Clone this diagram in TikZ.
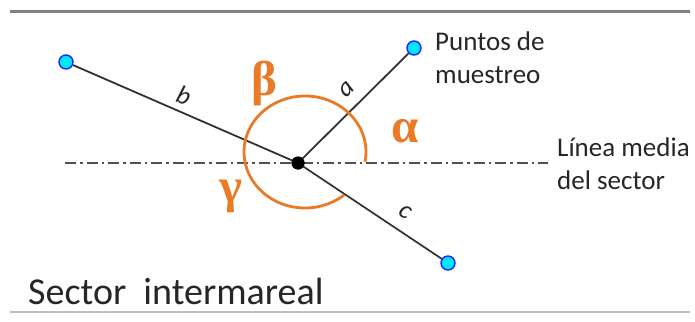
\documentclass[tikz,border=0pt]{standalone}
\usepackage{fontspec}
\setmainfont{Carlito}
\newfontfamily\greekfont{Liberation Serif}
\definecolor{orng}{RGB}{232,122,40}
\definecolor{ln}{RGB}{50,50,50}
\definecolor{ptfill}{RGB}{0,230,255}
\definecolor{ptdraw}{RGB}{20,40,255}
\tikzset{
  pt/.style={circle,fill=ptfill,draw=ptdraw,line width=1.4pt,minimum size=14pt,inner sep=0pt},
  cdot/.style={circle,fill=black,minimum size=13pt,inner sep=0pt},
  seg/.style={draw=ln,line width=1.8pt},
  midl/.style={draw=ln!85,line width=1.5pt,dash pattern=on 11pt off 4pt on 2.5pt off 4pt},
  ang/.style={draw=orng,line width=2.8pt},
  glab/.style={text=orng,font=\greekfont\bfseries\fontsize{49}{49}\selectfont,inner sep=0pt},
  slab/.style={font=\itshape\fontsize{26}{26}\selectfont,inner sep=0pt,text=black!85},
  txt/.style={font=\fontsize{27}{33}\selectfont,align=left,inner sep=0pt,text=black!85,anchor=west}
}
\begin{document}
\begin{tikzpicture}[x=1pt,y=-1pt]
\useasboundingbox (0,0) rectangle (695,321);
% frame lines
\coordinate (t1) at (10,12); \coordinate (t2) at (690,12);
\coordinate (b1) at (10,312); \coordinate (b2) at (690,312);
\draw[gray,line width=3pt] (t1) -- (t2);
\draw[black!25,line width=1.5pt] (b1) -- (b2);
% midline
\coordinate (ml1) at (65,163); \coordinate (ml2) at (548,163);
\draw[midl] (ml1) -- (ml2);
% points
\node[pt] (pb) at (66,62) {};
\node[pt] (pa) at (414,48) {};
\node[pt] (pc) at (448,263) {};
\node[cdot] (o) at (298,163) {};
\draw[seg] (o.center) -- (pb);
\draw[seg] (o.center) -- (pa);
\draw[seg] (o.center) -- (pc);
\node[cdot] at (o) {};
% angle arc
\coordinate (ec) at (305,152);
\draw[ang] ([shift={(10:61 and 56)}]ec) arc[start angle=10,end angle=-310,x radius=61,y radius=56];
% segment labels
\node[slab,rotate=-20] (lb) at (184,95) {b};
\node[slab,rotate=45] (la) at (347,89) {a};
\node[slab,rotate=-32] (lc) at (405,212) {c};
% greek labels
\node[glab] (gb) at (264,83) {β};
\node[glab] (ga) at (405,131) {α};
\node[glab] (gg) at (231,196) {γ};
% texts
\node[txt] (tp) at (435,58) {Puntos de\\muestreo};
\node[txt] (tl) at (557,164) {Línea media\\del sector};
\node[txt,font=\fontsize{38}{38}\selectfont] (ts) at (28,291) {Sector\ \ intermareal};
\end{tikzpicture}
\end{document}
